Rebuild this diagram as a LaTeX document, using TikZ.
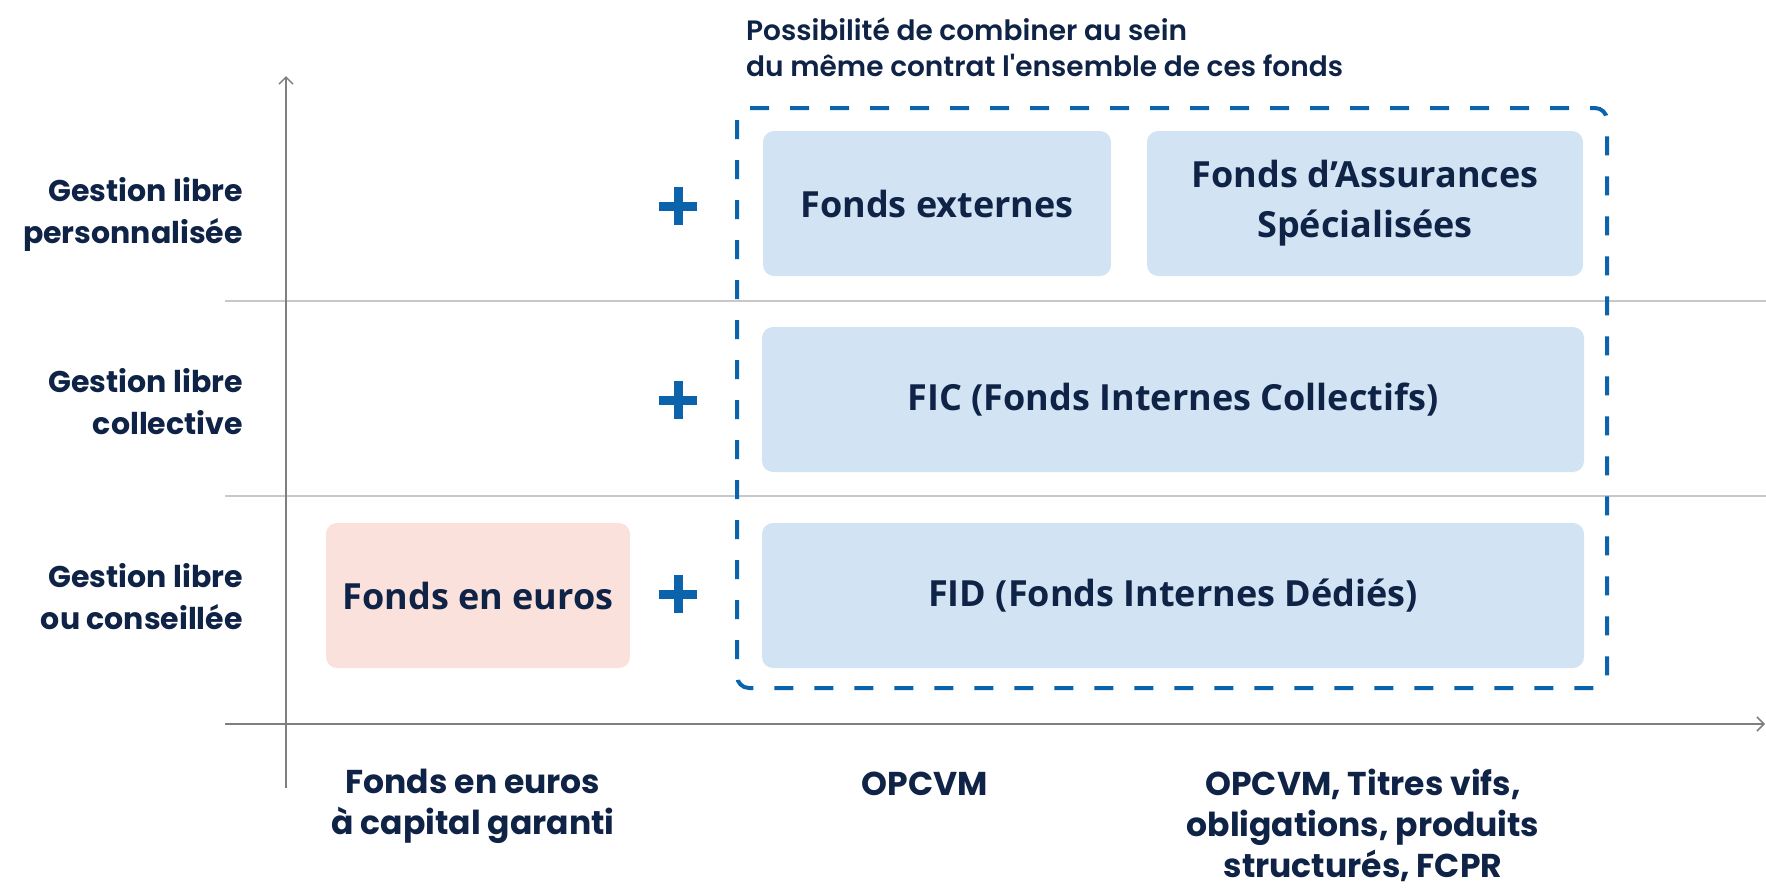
\documentclass[tikz,border=0pt]{standalone}
\usepackage{fontspec}
\setmainfont{Poppins}
\newfontfamily\boxfont{Open Sans}
\newfontfamily\notefont{Poppins SemiBold}
\usetikzlibrary{arrows.meta}
\definecolor{navy}{HTML}{0F2347}
\definecolor{dblue}{HTML}{0B63AC}
\definecolor{lblue}{HTML}{D2E4F3}
\definecolor{pinkfill}{HTML}{FBE1DB}
\definecolor{axisgray}{HTML}{7F7F7F}
\definecolor{gridgray}{HTML}{C8C8C8}
\begin{document}
\begin{tikzpicture}[x=1pt,y=-1pt,
  fund/.style={fill=lblue, rounded corners=11pt, inner sep=0pt, outer sep=0pt,
    minimum height=145pt, text=navy, align=center,
    font=\boxfont\bfseries\fontsize{36}{50}\selectfont},
  euro/.style={fund, fill=pinkfill},
  rowlabel/.style={anchor=east, inner sep=0pt, align=right, text=navy,
    font=\bfseries\fontsize{30}{42}\selectfont},
  collabel/.style={anchor=center, inner sep=0pt, align=center, text=navy,
    font=\bfseries\fontsize{33}{41}\selectfont},
  axisline/.style={draw=axisgray, line width=2pt, -{Straight Barb[length=7pt, width=14pt, line width=1.5pt]}},
  gridline/.style={draw=gridgray, line width=1.5pt},
  combo/.style={draw=dblue, line width=4pt, rounded corners=12pt, dash pattern=on 19pt off 21pt},
  plusbar/.style={draw=dblue, line width=9pt}
]
\useasboundingbox (0,0) rectangle (1766,887);

% grid lines
\coordinate (g1l) at (225,301); \coordinate (g1r) at (1766,301);
\coordinate (g2l) at (225,496); \coordinate (g2r) at (1766,496);
\draw[gridline] (g1l) -- (g1r);
\draw[gridline] (g2l) -- (g2r);

% axes
\coordinate (yb) at (286,788); \coordinate (yt) at (286,76);
\coordinate (xl) at (225,724); \coordinate (xr) at (1765,724);
\draw[axisline, line width=1.5pt] (yb) -- (yt);
\draw[axisline] (xl) -- (xr);

% dashed combination box
\draw[combo] (737,108) rectangle (1607,688);

% top note
\node[anchor=west, inner sep=0pt, align=left, text=navy,
  font=\notefont\fontsize{28}{36}\selectfont] (note) at (746,47)
  {Possibilité de combiner au sein\\du même contrat l'ensemble de ces fonds};

% fund boxes
\node[fund, minimum width=348pt] (ext) at (937,203.5) {Fonds externes};
\node[fund, minimum width=436pt] (fas) at (1365,203.5) {Fonds d’Assurances\\Spécialisées};
\node[fund, minimum width=822pt] (fic) at (1173,399.5) {FIC (Fonds Internes Collectifs)};
\node[fund, minimum width=822pt] (fid) at (1173,595.5) {FID (Fonds Internes Dédiés)};
\node[euro, minimum width=304pt] (eur) at (478,595.5) {Fonds en euros};

% plus signs
\foreach \n/\y in {1/206,2/400,3/594}{
  \coordinate (p\n l) at (659,\y); \coordinate (p\n r) at (697,\y);
  \coordinate (p\n t) at (678,\y-19); \coordinate (p\n b) at (678,\y+19);
  \draw[plusbar] (p\n l) -- (p\n r);
  \draw[plusbar] (p\n t) -- (p\n b);
}

% row labels
\node[rowlabel] (r1) at (243,214) {Gestion libre\\personnalisée};
\node[rowlabel] (r2) at (243,402) {Gestion libre\\collective};
\node[rowlabel] (r3) at (243,597) {Gestion libre\\ou conseillée};

% column labels
\node[collabel] (c1) at (473,806) {Fonds en euros\\à capital garanti};
\node[collabel] (c2) at (925,784) {OPCVM};
\node[collabel] (c3) at (1363,825) {OPCVM, Titres vifs,\\obligations, produits\\structurés, FCPR};
\end{tikzpicture}
\end{document}
